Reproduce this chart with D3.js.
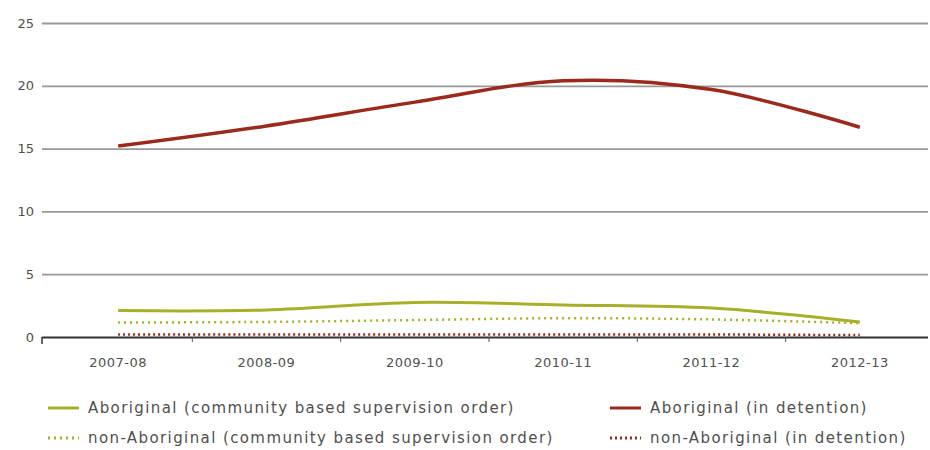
<!DOCTYPE html>
<html>
<head>
<meta charset="utf-8">
<script src="https://cdnjs.cloudflare.com/ajax/libs/d3/7.8.5/d3.min.js"></script>
<style>
  body { margin: 0; background: #fff; }
  svg { display: block; font-family: "DejaVu Sans", sans-serif; }
</style>
</head>
<body>
<svg id="chart" width="930" height="450"></svg>
<script>
// data
var years = ['2007-08', '2008-09', '2009-10', '2010-11', '2011-12', '2012-13'];
var yearLabels = ['2007-08', '2008-09', '2009-10', '2010-11', '2011-12', '2012-13'];
var aborigCommunity = [2.1, 2.15, 2.75, 2.55, 2.3, 1.2];
var nonAborigCommunity = [1.15, 1.2, 1.35, 1.5, 1.4, 1.1];
var aborigDetention = [15.2, 16.8, 18.7, 20.4, 19.7, 16.7];
var nonAborigDetention = [0.2, 0.2, 0.2, 0.2, 0.2, 0.15];
var yTicks = [0, 5, 10, 15, 20, 25];

var olive = '#a8b02a';
var red = '#9b2a1c';
var textGray = '#505050';

function drawChart() {
    var svg = d3.select('#chart');
    var left = 44, right = 934, top = 23, bottom = 337;

    var x = d3.scaleBand().domain(years).range([left, right]);
    var y = d3.scaleLinear().domain([0, 25]).range([bottom, top]);

    // gridlines + y labels
    var yAxis = d3.axisLeft(y).tickValues(yTicks).tickSize(-(930 - left)).tickPadding(10);
    var gy = svg.append('g').attr('transform', 'translate(' + left + ',0)').call(yAxis);
    gy.select('.domain').remove();
    gy.selectAll('.tick line')
        .attr('stroke', '#999')
        .attr('stroke-width', 1.8)
        .attr('transform', 'translate(-2,0)');
    gy.selectAll('.tick text')
        .attr('fill', textGray)
        .attr('font-size', 13)
        .attr('font-family', '"DejaVu Sans", sans-serif');
    gy.selectAll('.tick').filter(function (d) { return d == 0; }).select('line')
        .attr('stroke', '#333');

    // x axis with boundary ticks
    var gx = svg.append('g').attr('transform', 'translate(0,' + bottom + ')');
    gx.append('line')
        .attr('x1', left - 2).attr('x2', left - 2)
        .attr('y1', 0).attr('y2', 7)
        .attr('stroke', '#333').attr('stroke-width', 1.5);
    years.forEach(function (d, i) {
        if (i > 0) {
            gx.append('line')
                .attr('x1', x(d)).attr('x2', x(d))
                .attr('y1', 0).attr('y2', 5)
                .attr('stroke', '#555').attr('stroke-width', 1);
        }
        gx.append('text')
            .text(yearLabels[i])
            .attr('x', x(d) + x.bandwidth() / 2)
            .attr('y', 30)
            .attr('text-anchor', 'middle')
            .attr('font-size', 13)
            .attr('letter-spacing', 0.5)
            .attr('fill', textGray);
    });

    var line = d3.line()
        .x(function (d, i) { return x(years[i]) + x.bandwidth() / 2; })
        .y(function (d) { return y(d); })
        .curve(d3.curveCatmullRom.alpha(0.5));

    var series = [
        { values: nonAborigDetention, color: red, width: 2.5, dash: '2,3' },
        { values: nonAborigCommunity, color: olive, width: 2.5, dash: '2,4' },
        { values: aborigCommunity, color: olive, width: 3, dash: null },
        { values: aborigDetention, color: red, width: 3.5, dash: null }
    ];
    series.forEach(function (s) {
        svg.append('path')
            .datum(s.values)
            .attr('d', line)
            .attr('fill', 'none')
            .attr('stroke', s.color)
            .attr('stroke-width', s.width)
            .attr('stroke-dasharray', s.dash);
    });

    // legend
    var legend = [
        { label: 'Aboriginal (community based supervision order)', color: olive, dash: null, x: 48, tx: 88, y: 408 },
        { label: 'Aboriginal (in detention)', color: red, dash: null, x: 610, tx: 650, y: 408 },
        { label: 'non-Aboriginal (community based supervision order)', color: olive, dash: '2,4', x: 48, tx: 88, y: 438 },
        { label: 'non-Aboriginal (in detention)', color: red, dash: '2,3', x: 610, tx: 650, y: 438 }
    ];
    legend.forEach(function (l) {
        svg.append('line')
            .attr('x1', l.x).attr('x2', l.x + 31)
            .attr('y1', l.y).attr('y2', l.y)
            .attr('stroke', l.color)
            .attr('stroke-width', 3)
            .attr('stroke-dasharray', l.dash);
        svg.append('text')
            .text(l.label)
            .attr('x', l.tx)
            .attr('y', l.y + 5)
            .attr('font-size', 15)
            .attr('letter-spacing', 1.4)
            .attr('fill', textGray);
    });
}

window.onload = drawChart;
</script>
</body>
</html>
